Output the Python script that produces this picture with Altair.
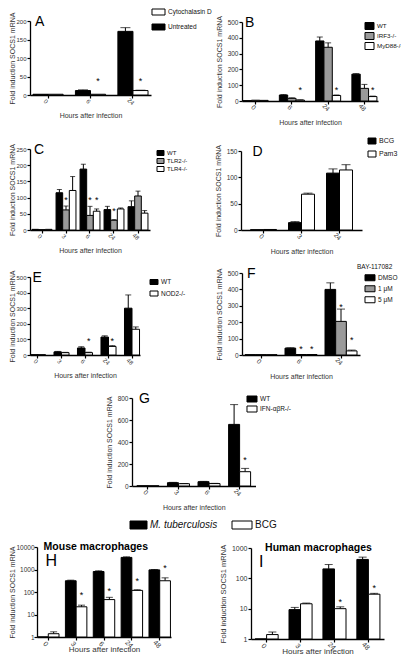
import altair as alt
import pandas as pd

FONT = "Liberation Sans"
W, H = 393, 648
OX, OY = 8, 8

BLACK, HATCH, WHITE = "#000000", "#9a9a9a", "#ffffff"

# ---------------- data ----------------
# Panel A
A_hours = ["0", "6", "24"]
A_series = ["Untreated", "Cytochalasin D"]
A_untreated = [2, 12, 172]
A_untreated_err = [0, 2, 10]
A_cyto = [2, 2, 12]
A_cyto_err = [0, 0, 1]
A_star_hour = ["6", "24"]
A_star_series = ["Cytochalasin D", "Cytochalasin D"]
A_star_y = [43, 43]

# Panel B
B_hours = ["0", "6", "24", "48"]
B_series = ["WT", "IRF3-/-", "MyD88-/-"]
B_wt = [2, 38, 380, 170]
B_wt_err = [0, 2, 25, 3]
B_irf3 = [5, 17, 340, 80]
B_irf3_err = [0, 3, 28, 25]
B_myd88 = [4, 6, 35, 28]
B_myd88_err = [0, 1, 3, 3]
B_star_hour = ["6", "24", "48"]
B_star_series = ["MyD88-/-"] * 3
B_star_y = [82, 82, 82]

# Panel C
C_hours = ["0", "3", "6", "24", "48"]
C_series = ["WT", "TLR2-/-", "TLR4-/-"]
C_wt = [2, 115, 188, 63, 72]
C_wt_err = [0, 10, 15, 10, 18]
C_tlr2 = [1, 62, 45, 30, 105]
C_tlr2_err = [0, 12, 28, 2, 15]
C_tlr4 = [2, 122, 58, 65, 52]
C_tlr4_err = [0, 43, 7, 3, 8]
C_star_hour = ["3", "6", "6", "24"]
C_star_series = ["TLR2-/-", "TLR2-/-", "TLR4-/-", "TLR2-/-"]
C_star_y = [100, 100, 100, 66]

# Panel D
D_hours = ["0", "3", "24"]
D_series = ["BCG", "Pam3"]
D_bcg = [0.5, 14, 108]
D_bcg_err = [0, 2, 8]
D_pam3 = [1, 68, 114]
D_pam3_err = [0, 2, 10]

# Panel E
E_hours = ["0", "3", "6", "24", "48"]
E_series = ["WT", "NOD2-/-"]
E_wt = [2, 20, 45, 115, 300]
E_wt_err = [0, 3, 8, 8, 85]
E_nod2 = [2, 15, 15, 55, 165]
E_nod2_err = [0, 2, 3, 5, 15]
E_star_hour = ["6", "24"]
E_star_series = ["NOD2-/-", "NOD2-/-"]
E_star_y = [105, 105]

# Panel F
F_hours = ["0", "6", "24"]
F_series = ["DMSO", "1 μM", "5 μM"]
F_dmso = [2, 42, 400]
F_dmso_err = [0, 2, 40]
F_1um = [2, 3, 205]
F_1um_err = [0, 0, 75]
F_5um = [2, 3, 25]
F_5um_err = [0, 0, 5]
F_star_hour = ["6", "6", "24", "24"]
F_star_series = ["1 μM", "5 μM", "1 μM", "5 μM"]
F_star_y = [48, 48, 305, 105]

# Panel G
G_hours = ["0", "3", "6", "24"]
G_series = ["WT", "IFN-αβR-/-"]
G_wt = [2, 30, 39, 560]
G_wt_err = [0, 3, 3, 180]
G_ko = [2, 21, 22, 130]
G_ko_err = [0, 2, 2, 30]
G_star_hour = ["24"]
G_star_series = ["IFN-αβR-/-"]
G_star_y = [255]

# Panel H (log)
H_hours = ["0", "3", "6", "24", "48"]
H_series = ["M. tuberculosis", "BCG"]
H_mtb = [1, 316, 815, 3450, 960]
H_mtb_err = [0, 20, 60, 200, 40]
H_bcg = [1.4, 22, 46, 118, 316]
H_bcg_err = [0.3, 4, 12, 8, 110]
H_star_hour = ["3", "6", "24", "48"]
H_star_series = ["BCG"] * 4
H_star_y = [90, 140, 390, 1500]

# Panel I (log)
I_hours = ["0", "3", "24", "48"]
I_series = ["M. tuberculosis", "BCG"]
I_mtb = [1, 9.3, 205, 420]
I_mtb_err = [0, 1.7, 80, 80]
I_bcg = [1.4, 14.5, 10, 30]
I_bcg_err = [0.3, 0.8, 1.5, 2]
I_star_hour = ["24", "48"]
I_star_series = ["BCG", "BCG"]
I_star_y = [19, 55]


# ---------------- helpers ----------------
def bars_df(hours, series, means, errs):
    rows = []
    for s, m, e in zip(series, means, errs):
        for h, v, d in zip(hours, m, e):
            rows.append({"hour": h, "series": s, "mean": v, "top": v + d, "err": d})
    return pd.DataFrame(rows)


def star_df(hs, ss, ys):
    return pd.DataFrame({"hour": hs, "series": ss, "y": ys})


def legend(lx, row1, w, h, fs, spacing, values=None, title=None, title_x=None,
           title_y=None, italic=False, fudge=3):
    r = w / h
    path = f"M-{r:.3f},-1H{r:.3f}V1H-{r:.3f}Z"
    entry = max(int(h + 1 + 0.999), fs)
    kw = dict(
        orient="none",
        symbolType=path,
        symbolSize=h * h,
        symbolStrokeColor="black",
        symbolStrokeWidth=1,
        symbolOpacity=1,
        labelFont=FONT,
        labelFontSize=fs,
        labelColor="#111",
        rowPadding=spacing - entry - fudge,
        padding=0,
        labelOffset=w / 2 + 3 - entry / 2,
    )
    if title is None:
        kw["title"] = None
        kw["legendX"] = lx - OX + (w / 2 - entry / 2)
        kw["legendY"] = row1 - entry / 2 - OY
    else:
        kw.update(title=title, titleFont=FONT, titleFontSize=fs, titleFontWeight="normal",
                  titleColor="#111", titlePadding=4)
        kw["legendX"] = title_x - OX
        kw["legendY"] = title_y - fs / 2 - OY
        kw["symbolOffset"] = lx - title_x + w / 2 - entry / 2
    if values is not None:
        kw["values"] = values
    if italic:
        kw["labelFontStyle"] = "italic"
    return alt.Legend(**kw)


def panel(hours, series, fills, means, errs, stars, ydom, yticks, lay, leg,
          letter, log=False, extra_title=None):
    x0, x1 = lay["x"][0] - OX, lay["x"][1] - OX
    yb, yt = lay["y"][0] - OY, lay["y"][1] - OY
    fs = lay.get("fs", 6.5)
    tfs = lay.get("tfs", 7)
    df = bars_df(hours, series, means, errs)
    xs = alt.Scale(domain=hours, range=[x0, x1], paddingInner=lay["pi"],
                   paddingOuter=lay["po"])
    if log:
        ys = alt.Scale(type="log", domain=ydom, range=[yb, yt], nice=False)
    else:
        ys = alt.Scale(type="linear", domain=ydom, range=[yb, yt], nice=False)
    xax = alt.Axis(orient="bottom", offset=yb - H, title="Hours after infection",
                   labelAngle=45, labelAlign="center", labelBaseline="top",
                   labelFont=FONT, labelFontSize=lay.get("xfs", fs),
                   labelColor="#333", titleFont=FONT, titleFontSize=lay.get("xtfs", tfs),
                   titleFontWeight="normal", titleColor="#333", domainColor="black",
                   domainWidth=1.3, tickColor="black", tickWidth=1.2, tickSize=3,
                   labelPadding=1, titlePadding=lay.get("xtp", 6), grid=False)
    yax = alt.Axis(orient="left", offset=-x0, values=yticks, format="d",
                   title="Fold induction SOCS1 mRNA", labelFont=FONT, labelFontSize=fs,
                   labelColor="#333", titleFont=FONT, titleFontSize=tfs,
                   titleFontWeight="normal", titleColor="#333", domainColor="black",
                   domainWidth=1.3, tickColor="black", tickWidth=1.2, tickSize=3,
                   labelPadding=lay.get("ylp", 1), titlePadding=lay.get("ytp", 5),
                   grid=False)
    X = alt.X("hour:N", scale=xs, axis=xax)
    XO = alt.XOffset("series:N", scale=alt.Scale(domain=series, paddingInner=0,
                                                  paddingOuter=0))

    def Y(f):
        return alt.Y(f, type="quantitative", scale=ys, axis=yax)

    base = alt.Chart(df)
    enc = dict(x=X, xOffset=XO, y=Y("mean"),
               fill=alt.Fill("series:N", scale=alt.Scale(domain=series, range=fills),
                             legend=leg))
    if log:
        enc["y2"] = alt.datum(1)
    err_rule = base.transform_filter("datum.err > 0").mark_rule(
        color="black", strokeWidth=1).encode(x=X, xOffset=XO, y=Y("mean"), y2="top:Q")
    cap = base.transform_filter("datum.err > 0").mark_tick(
        color="black", thickness=1, size=lay["cap"]).encode(x=X, xOffset=XO, y=Y("top"))
    bars = base.mark_bar(stroke="black", strokeWidth=1).encode(**enc)
    layers = [err_rule, bars, cap]
    if stars is not None:
        sd = star_df(*stars)
        layers.append(alt.Chart(sd).mark_text(text="*", font=FONT, fontSize=9, dy=2,
                                              color="black").encode(
            x=X, xOffset=XO, y=Y("y")))
    ld = pd.DataFrame({"hour": [hours[0]], "v": [ydom[1]], "label": [letter]})
    layers.append(alt.Chart(ld).mark_text(
        align="left", baseline="top", font=FONT, fontSize=lay.get("lfs", 14),
        dx=lay.get("ldx", 2), dy=lay.get("ldy", -6), color="black").encode(
        x=alt.X("hour:N", scale=xs, axis=xax, bandPosition=0), y=Y("v"), text="label:N"))
    if extra_title is not None:
        td = pd.DataFrame({"hour": [hours[0]], "v": [ydom[1]], "label": [extra_title]})
        layers.append(alt.Chart(td).mark_text(
            align="left", baseline="middle", font=FONT, fontSize=10.5, fontWeight="bold",
            dx=lay.get("tdx", 10), dy=0, color="black").encode(
            x=alt.X("hour:N", scale=xs, axis=xax, bandPosition=0), y=Y("v"),
            text="label:N"))
    return alt.layer(*layers)


LAY = {
    "A": dict(x=(30, 151), y=(95, 21), pi=0.29, po=0.07, cap=10, fs=6, ytp=0),
    "B": dict(x=(242, 378), y=(101, 22), pi=0.31, po=0.03, cap=6),
    "C": dict(x=(30, 150), y=(230, 149), pi=0.17, po=0.085, cap=5, fs=6, ytp=0),
    "D": dict(x=(241, 362), y=(230, 151), pi=0.316, po=0.25, cap=9),
    "E": dict(x=(30, 140), y=(355, 277), pi=0.36, po=0.02, cap=6, fs=6, ytp=0),
    "F": dict(x=(242, 360), y=(355, 273), pi=0.2, po=0.075, cap=8),
    "G": dict(x=(132, 255.5), y=(486, 398), pi=0.28, po=0.16, cap=8),
    "H": dict(x=(37, 171), y=(637, 547), pi=0.23, po=0.02, cap=7, fs=6.5, tfs=7,
              ytp=0, ylp=0, xfs=7, xtfs=8, xtp=-3, lfs=16, ldy=6, ldx=8, tdx=6),
    "I": dict(x=(251, 384), y=(639, 548), pi=0.32, po=0.12, cap=8, fs=7, tfs=7.5,
              ytp=4, xfs=7, xtfs=8, xtp=-3, lfs=16, ldy=6, ldx=4),
}

pA = panel(A_hours, A_series, [BLACK, WHITE], [A_untreated, A_cyto],
           [A_untreated_err, A_cyto_err], (A_star_hour, A_star_series, A_star_y),
           [0, 200], [0, 50, 100, 150, 200], LAY["A"],
           legend(152, 12, 13, 6, 6.5, 11, values=["Cytochalasin D", "Untreated"],
                  fudge=0), "A")
pB = panel(B_hours, B_series, [BLACK, HATCH, WHITE], [B_wt, B_irf3, B_myd88],
           [B_wt_err, B_irf3_err, B_myd88_err], (B_star_hour, B_star_series, B_star_y),
           [0, 500], [0, 100, 200, 300, 400, 500], LAY["B"],
           legend(365, 26, 9, 7, 6.2, 8.5), "B")
pC = panel(C_hours, C_series, [BLACK, HATCH, WHITE], [C_wt, C_tlr2, C_tlr4],
           [C_wt_err, C_tlr2_err, C_tlr4_err], (C_star_hour, C_star_series, C_star_y),
           [0, 250], [0, 50, 100, 150, 200, 250], LAY["C"],
           legend(157, 153, 7, 5, 6, 6.5), "C")
pD = panel(D_hours, D_series, [BLACK, WHITE], [D_bcg, D_pam3], [D_bcg_err, D_pam3_err],
           None, [0, 150], [0, 50, 100, 150], LAY["D"],
           legend(368, 141, 8, 6, 7, 12), "D")
pE = panel(E_hours, E_series, [BLACK, WHITE], [E_wt, E_nod2], [E_wt_err, E_nod2_err],
           (E_star_hour, E_star_series, E_star_y), [0, 500],
           [0, 100, 200, 300, 400, 500], LAY["E"],
           legend(150, 282, 8, 5, 6.5, 11), "E")
pF = panel(F_hours, F_series, [BLACK, HATCH, WHITE], [F_dmso, F_1um, F_5um],
           [F_dmso_err, F_1um_err, F_5um_err], (F_star_hour, F_star_series, F_star_y),
           [0, 500], [0, 100, 200, 300, 400, 500], LAY["F"],
           legend(365, 279, 10, 6, 6.5, 10, title="BAY-117082", title_x=357,
                  title_y=267), "F")
pG = panel(G_hours, G_series, [BLACK, WHITE], [G_wt, G_ko], [G_wt_err, G_ko_err],
           (G_star_hour, G_star_series, G_star_y), [0, 800],
           [0, 200, 400, 600, 800], LAY["G"],
           legend(247, 399, 10, 6, 6.5, 9), "G")
pH = panel(H_hours, H_series, [BLACK, WHITE], [H_mtb, H_bcg], [H_mtb_err, H_bcg_err],
           (H_star_hour, H_star_series, H_star_y), [1, 10000],
           [1, 10, 100, 1000, 10000], LAY["H"],
           legend(130, 525, 17, 8, 10, 12, values=["M. tuberculosis"], italic=True),
           "H", log=True, extra_title="Mouse macrophages")
pI = panel(I_hours, I_series, [BLACK, WHITE], [I_mtb, I_bcg], [I_mtb_err, I_bcg_err],
           (I_star_hour, I_star_series, I_star_y), [1, 1000],
           [1, 10, 100, 1000], LAY["I"],
           legend(232, 525, 20, 8, 10, 12, values=["BCG"]),
           "I", log=True, extra_title="Human macrophages")

chart = alt.layer(pA, pB, pC, pD, pE, pF, pG, pH, pI).resolve_scale(
    x="independent", y="independent", xOffset="independent", fill="independent"
).properties(
    width=W, height=H, padding=0, autosize=alt.AutoSizeParams(type="none")
).configure_view(strokeWidth=0)

chart.save("out.html", embed_options={"renderer": "svg", "actions": False})
